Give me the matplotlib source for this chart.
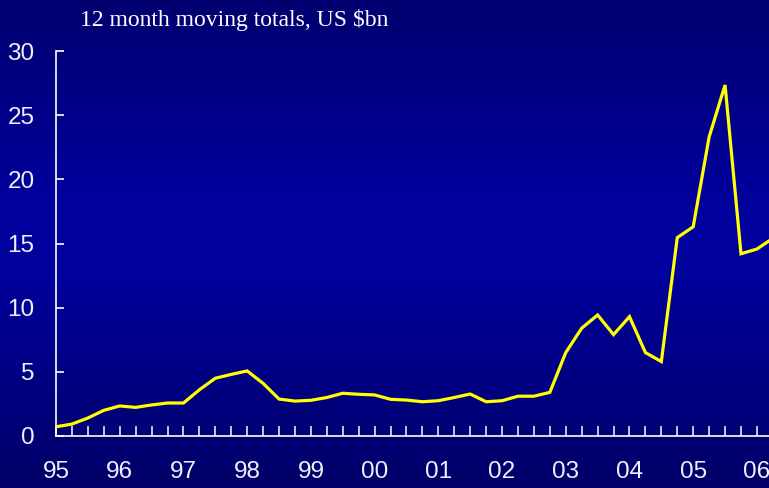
import numpy as np
import matplotlib
matplotlib.use("Agg")
import matplotlib.pyplot as plt
from matplotlib.colors import LinearSegmentedColormap

# quarterly values, 1995Q1 onwards (12 month moving totals, US $bn)
values = [0.72, 0.93, 1.4, 2.0, 2.34, 2.23, 2.42, 2.57,
          2.57, 3.6, 4.5, 4.8, 5.07, 4.1, 2.88, 2.72,
          2.78, 3.0, 3.33, 3.25, 3.2, 2.86, 2.8, 2.67,
          2.75, 3.0, 3.27, 2.67, 2.75, 3.1, 3.1, 3.4,
          6.5, 8.4, 9.43, 7.9, 9.3, 6.5, 5.8, 15.46,
          16.3, 23.3, 27.35, 14.2, 14.57, 15.4]
year_labels = ["95", "96", "97", "98", "99", "00", "01", "02", "03", "04", "05", "06"]
y_ticks = [0, 5, 10, 15, 20, 25, 30]
title = "12 month moving totals, US $bn"

W, H = 769, 488
fig = plt.figure(figsize=(W / 100, H / 100), dpi=100)

# background gradient: dark navy at top/bottom, brighter blue in the middle
bg = fig.add_axes([0, 0, 1, 1])
bg.set_axis_off()
cmap = LinearSegmentedColormap.from_list(
    "navy", [(0.0, "#000068"), (0.45, "#00009e"), (0.6, "#00009c"), (1.0, "#000070")])
grad = np.linspace(0, 1, 256).reshape(-1, 1)
bg.imshow(grad, aspect="auto", cmap=cmap, extent=[0, 1, 0, 1])
bg.set_xlim(0, 1)
bg.set_ylim(1, 0)

x0, x_axis_y, y_top = 56, 436, 51
qpx = 15.93
ax = fig.add_axes([x0 / W, (H - x_axis_y) / H, (W - x0) / W, (x_axis_y - y_top) / H])
ax.patch.set_alpha(0)

x = np.arange(len(values))
ax.plot(x, values, color="#ffff00", lw=2.3, solid_joinstyle="miter")

ax.set_xticks(np.arange(0, len(year_labels) * 4, 4))
ax.set_xticklabels(year_labels)
ax.set_xticks(np.arange(0, 48), minor=True)
ax.set_yticks(y_ticks)
# limits after the ticks, so the tick setting does not widen the view
ax.set_xlim(0, (W - x0) / qpx)
ax.set_ylim(0, 30)

for s in ["top", "right"]:
    ax.spines[s].set_visible(False)
for s in ["left", "bottom"]:
    ax.spines[s].set_color("white")
    ax.spines[s].set_linewidth(1.2)

ax.tick_params(axis="x", which="both", direction="in", length=7, width=1.2,
               color="#e6e6f0", pad=18)
ax.tick_params(axis="x", which="major", labelsize=17.5, labelcolor="#f0f0f8")
ax.tick_params(axis="y", direction="in", length=6, width=1.2, color="white",
               pad=15.5, labelsize=17.5, labelcolor="#f0f0f8")
for lab in ax.get_xticklabels() + ax.get_yticklabels():
    lab.set_family(["Liberation Sans", "DejaVu Sans"])

fig.text(80 / W, 1 - 26 / H, title, color="white", fontsize=17,
         family=["Liberation Serif", "DejaVu Serif"], ha="left", va="baseline")

fig.savefig("out.png", dpi=100)
